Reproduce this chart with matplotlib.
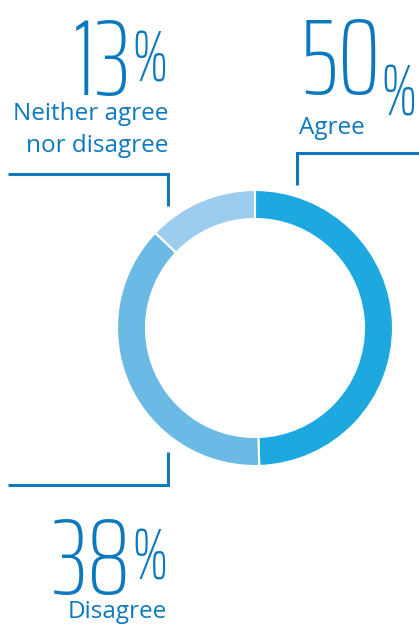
import matplotlib
matplotlib.use("Agg")
import matplotlib.pyplot as plt

# survey split
labels = ["Agree", "Disagree", "Neither agree\nnor disagree"]
values = [50, 38, 13]
colors = ["#1DA9E0", "#6BBAE6", "#9DCDEE"]

W, H = 419, 628
text_blue = "#0C79BF"
line_blue = "#1278BE"
big_font = "Saira ExtraCondensed"
small_font = "Open Sans"

fig = plt.figure(figsize=(W / 100, H / 100), dpi=100)
ax = fig.add_axes([0, 0, 1, 1])


def py(y):
    # pixel rows counted from the top
    return H - y


ax.pie(values, colors=colors, startangle=90, counterclock=False,
       center=(255, py(328)), radius=138,
       wedgeprops=dict(width=29, edgecolor="white", linewidth=1.5))
ax.set_xlim(0, W)
ax.set_ylim(0, H)
ax.set_aspect("equal")
ax.axis("off")

# leader brackets
lw = 2.2
ax.plot([8, 168, 168], [py(173.5), py(173.5), py(206)], color=line_blue, lw=lw,
        solid_capstyle="butt", solid_joinstyle="miter")
ax.plot([297, 297, 419], [py(185), py(153), py(153)], color=line_blue, lw=lw,
        solid_capstyle="butt", solid_joinstyle="miter")
ax.plot([168, 168, 8], [py(452), py(484.5), py(484.5)], color=line_blue, lw=lw,
        solid_capstyle="butt", solid_joinstyle="miter")


def big_number(v, x, y, align):
    # digits and a smaller percent sign sharing one baseline
    kw = dict(color=text_blue, family=big_font, fontweight=100, va="baseline")
    if align == "right":
        pct = ax.text(x, py(y), "%", ha="right", fontsize=52, **kw)
        ax.annotate(str(v), xy=(0, 0), xycoords=pct, ha="right",
                    fontsize=78, **kw)
    else:
        num = ax.text(x, py(y), str(v), ha="left", fontsize=78, **kw)
        ax.annotate("%", xy=(1, 0), xycoords=num, ha="left",
                    fontsize=52, **kw)


big_number(values[2], 168, 81, "right")
big_number(values[0], 300, 94, "left")
big_number(values[1], 168, 580, "right")

lab = dict(color=text_blue, family=small_font, fontsize=17.5, va="baseline")
ax.text(168, py(120), "Neither agree", ha="right", **lab)
ax.text(168, py(152), "nor disagree", ha="right", **lab)
ax.text(299, py(134), labels[0], ha="left", **lab)
ax.text(167, py(618), labels[1], ha="right", **lab)

fig.savefig("out.png", dpi=100)
